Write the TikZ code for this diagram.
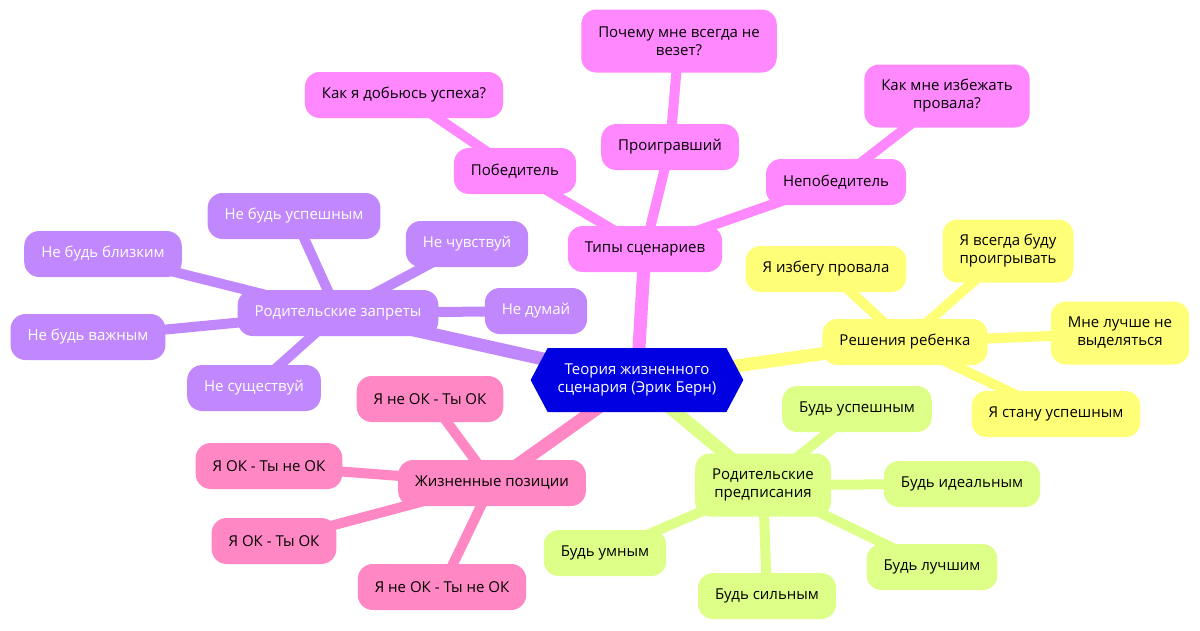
\documentclass[tikz,border=0pt]{standalone}
\usepackage{fontspec}
\setmainfont{Open Sans}
\usepackage{tikz}
\usetikzlibrary{shapes.symbols,backgrounds}
\definecolor{theoryblue}{HTML}{0000E0}
\definecolor{typepink}{HTML}{FF88FF}
\definecolor{banviolet}{HTML}{C088FC}
\definecolor{posrose}{HTML}{FF88C4}
\definecolor{injgreen}{HTML}{DDFF88}
\definecolor{decyellow}{HTML}{FFFF77}

\begin{document}
\begin{tikzpicture}[x=1pt,y=-1pt,
  box/.style={rounded corners=15pt, minimum height=46pt, inner xsep=17pt, inner ysep=4pt,
    align=center, font=\fontsize{15}{18}\selectfont},
  twoline/.style={minimum height=63pt},
  link/.style={line width=10pt},
  trunk/.style={line width=13pt}]
  \useasboundingbox (0,0) rectangle (1200,630);

  % centre
  \node (theory) [shape=signal, signal to=east and west, signal pointer angle=124,
    fill=theoryblue, text=white, align=center, minimum height=64pt, inner xsep=10pt,
    font=\fontsize{15}{18}\selectfont] at (637,380) {Теория жизненного\\сценария (Эрик Берн)};

  % types of scripts
  \node (types) [box, fill=typepink] at (645,249) {Типы сценариев};
  \node (winner) [box, fill=typepink] at (515,171) {Победитель};
  \node (winq) [box, fill=typepink] at (404,95) {Как я добьюсь успеха?};
  \node (loser) [box, fill=typepink] at (670,147) {Проигравший};
  \node (loseq) [box, twoline, fill=typepink] at (679,41) {Почему мне всегда не\\везет?};
  \node (nonwin) [box, fill=typepink] at (836,182) {Непобедитель};
  \node (nonwinq) [box, twoline, fill=typepink] at (947,96) {Как мне избежать\\провала?};

  % parental bans
  \node (bans) [box, fill=banviolet, text=white] at (338,313) {Родительские запреты};
  \node (bansucc) [box, fill=banviolet, text=white] at (294,216) {Не будь успешным};
  \node (banclose) [box, fill=banviolet, text=white] at (103,254) {Не будь близким};
  \node (banfeel) [box, fill=banviolet, text=white] at (467,244) {Не чувствуй};
  \node (banthink) [box, fill=banviolet, text=white] at (536,311) {Не думай};
  \node (banimp) [box, fill=banviolet, text=white] at (88,337) {Не будь важным};
  \node (banexist) [box, fill=banviolet, text=white] at (254,388) {Не существуй};

  % life positions
  \node (pos) [box, fill=posrose] at (492,483) {Жизненные позиции};
  \node (posa) [box, fill=posrose] at (430,399) {Я не ОК - Ты ОК};
  \node (posb) [box, fill=posrose] at (269,466) {Я ОК - Ты не ОК};
  \node (posc) [box, fill=posrose] at (274,541) {Я ОК - Ты ОК};
  \node (posd) [box, fill=posrose] at (442,587) {Я не ОК - Ты не ОК};

  % parental injunctions
  \node (inj) [box, twoline, fill=injgreen] at (763,485) {Родительские\\предписания};
  \node (injsucc) [box, fill=injgreen] at (857,409) {Будь успешным};
  \node (injideal) [box, fill=injgreen] at (962,484) {Будь идеальным};
  \node (injsmart) [box, fill=injgreen] at (605,553) {Будь умным};
  \node (injstrong) [box, fill=injgreen] at (767,596) {Будь сильным};
  \node (injbest) [box, fill=injgreen] at (932,567) {Будь лучшим};

  % child's decisions
  \node (dec) [box, fill=decyellow] at (905,342) {Решения ребенка};
  \node (decavoid) [box, fill=decyellow] at (826,269) {Я избегу провала};
  \node (declose) [box, twoline, fill=decyellow] at (1008,251) {Я всегда буду\\проигрывать};
  \node (dechide) [box, twoline, fill=decyellow] at (1120,333) {Мне лучше не\\выделяться};
  \node (decsucc) [box, fill=decyellow] at (1056,414) {Я стану успешным};

  \begin{pgfonlayer}{background}
    \draw[trunk, typepink] (theory.center) -- (types.center);
    \draw[trunk, banviolet] (theory.center) -- (bans.center);
    \draw[trunk, posrose] (theory.center) -- (pos.center);
    \draw[trunk, injgreen] (theory.center) -- (inj.center);
    \draw[trunk, decyellow] (theory.center) -- (dec.center);
    \draw[link, typepink] (types.center) -- (winner.center) (winner.center) -- (winq.center)
      (types.center) -- (loser.center) (loser.center) -- (loseq.center)
      (types.center) -- (nonwin.center) (nonwin.center) -- (nonwinq.center);
    \foreach \b in {bansucc,banclose,banfeel,banthink,banimp,banexist}
      \draw[link, banviolet] (bans.center) -- (\b.center);
    \foreach \p in {posa,posb,posc,posd}
      \draw[link, posrose] (pos.center) -- (\p.center);
    \foreach \i in {injsucc,injideal,injsmart,injstrong,injbest}
      \draw[link, injgreen] (inj.center) -- (\i.center);
    \foreach \d in {decavoid,declose,dechide,decsucc}
      \draw[link, decyellow] (dec.center) -- (\d.center);
  \end{pgfonlayer}
\end{tikzpicture}
\end{document}
